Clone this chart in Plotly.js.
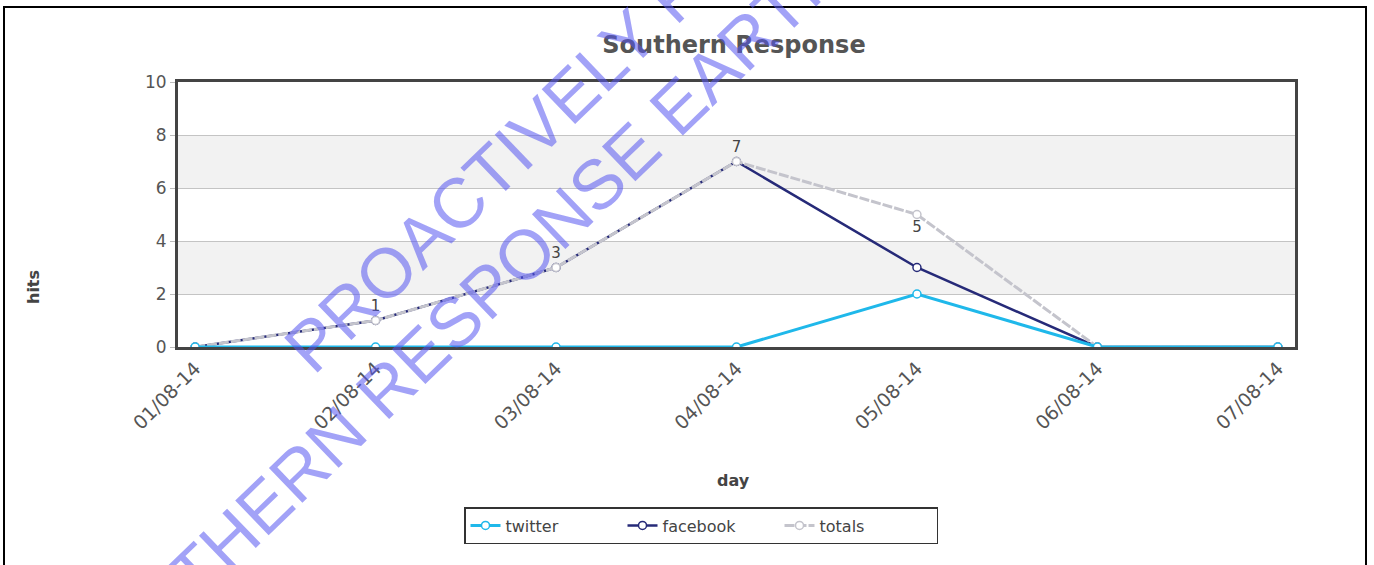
<!DOCTYPE html>
<html>
<head>
<meta charset="utf-8">
<script src="https://cdn.plot.ly/plotly-3.0.1.min.js"></script>
<style>html,body{margin:0;padding:0;background:#fff;}#chart{width:1374px;height:565px;}</style>
</head>
<body>
<div id="chart"></div>
<script>
const days = ['01/08-14','02/08-14','03/08-14','04/08-14','05/08-14','06/08-14','07/08-14'];
const twitter = [0, 0, 0, 0, 2, 0, 0];
const facebook = [0, 1, 3, 7, 3, 0, 0];
const totals = [0, 1, 3, 7, 5, 0, 0];
const yTicks = [0, 2, 4, 6, 8, 10];
const bands = [[2, 4], [6, 8]];

const L = 178, R = 79, T = 82, B = 218, W = 1374, H = 565;
const pw = W - L - R, ph = H - T - B;
const px = x => (x - L) / pw;
const py = y => (H - B - y) / ph;

const font = 'DejaVu Sans, Verdana, sans-serif';

const twTrace = {
  name: 'twitter', x: days, y: twitter, type: 'scatter', mode: 'lines+markers',
  line: {color: '#1fb8ea', width: 3},
  marker: {symbol: 'circle', size: 8, color: '#ffffff', line: {color: '#1fb8ea', width: 1.5}},
  legendrank: 1
};
const fbTrace = {
  name: 'facebook', x: days, y: facebook, type: 'scatter', mode: 'lines+markers',
  line: {color: '#262a78', width: 2.5},
  marker: {symbol: 'circle', size: 8, color: '#ffffff', line: {color: '#262a78', width: 1.5}},
  legendrank: 2
};
const totTrace = {
  name: 'totals', x: days, y: totals, type: 'scatter', mode: 'lines+markers+text',
  line: {color: '#c4c4cc', width: 3, dash: '10px,2px'},
  marker: {symbol: 'circle', size: 8, color: '#ffffff', line: {color: '#c4c4cc', width: 1.5}},
  text: totals.map(v => v > 0 ? String(v) : ''),
  textposition: ['top center','top center','top center','top center','bottom center','top center','top center'],
  textfont: {family: font, size: 15, color: '#444'},
  legendrank: 3
};
const data = [fbTrace, totTrace, twTrace];

const shapes = bands.map(b => ({
  type: 'rect', xref: 'paper', yref: 'y', x0: 0, x1: 1, y0: b[0], y1: b[1],
  fillcolor: '#f2f2f2', line: {width: 0}, layer: 'below'
}));
shapes.push({
  type: 'rect', xref: 'paper', yref: 'paper',
  x0: px(4), x1: px(1366), y0: py(620), y1: py(7),
  line: {color: '#000', width: 2}, fillcolor: 'rgba(0,0,0,0)'
});

const wmColor = 'rgba(85,85,240,0.55)';
const layout = {
  width: W, height: H,
  margin: {l: L, r: R, t: T, b: B},
  paper_bgcolor: '#fff', plot_bgcolor: '#fff',
  showlegend: true,
  title: {text: 'Southern Response', font: {family: font, size: 24, color: '#555', weight: 'bold'},
          x: px(734), xref: 'paper', xanchor: 'center', y: 1 - 45 / H, yref: 'container', yanchor: 'middle'},
  xaxis: {
    type: 'category', range: [-0.095, 6.095], tickangle: -45,
    tickfont: {family: font, size: 19, color: '#555'},
    showgrid: false, zeroline: false, showline: true, mirror: true, linecolor: '#444', linewidth: 3,
    ticks: '', fixedrange: true
  },
  yaxis: {
    range: [0, 10], tickvals: yTicks, ticktext: yTicks.map(String),
    tickfont: {family: font, size: 17, color: '#555'},
    showgrid: true, gridcolor: '#c4c4c4', gridwidth: 1, zeroline: false,
    showline: true, mirror: true, linecolor: '#444', linewidth: 3,
    ticks: 'outside', ticklen: 5, tickcolor: '#bbb'
  },
  legend: {
    orientation: 'h', x: px(464), xanchor: 'left', y: py(507), yanchor: 'top',
    font: {family: font, size: 16, color: '#444'},
    bordercolor: '#333', borderwidth: 1.5, bgcolor: '#fff',
    entrywidth: 112, traceorder: 'normal'
  },
  shapes: shapes,
  annotations: [
    {text: '<b>hits</b>', xref: 'paper', yref: 'paper', x: px(33), y: py(287), showarrow: false, textangle: -90,
     xanchor: 'center', yanchor: 'middle',
     font: {family: font, size: 16, color: '#444'}},
    {text: '<b>day</b>', xref: 'paper', yref: 'paper', x: px(733), y: py(480), showarrow: false,
     xanchor: 'center', yanchor: 'middle',
     font: {family: font, size: 16, color: '#444'}},
    {text: 'PROACTIVELY RELEASED', xref: 'paper', yref: 'paper', x: px(612), y: py(55), showarrow: false,
     textangle: -44, xanchor: 'center', yanchor: 'middle',
     font: {family: 'Liberation Sans, Arial, sans-serif', size: 70, color: wmColor}},
    {text: 'SOUTHERN RESPONSE EARTHQUAKE', xref: 'paper', yref: 'paper', x: px(540), y: py(240), showarrow: false,
     textangle: -44, xanchor: 'center', yanchor: 'middle',
     font: {family: 'Liberation Sans, Arial, sans-serif', size: 70, color: wmColor}}
  ]
};

Plotly.newPlot('chart', data, layout, {displayModeBar: false, staticPlot: true});
</script>
</body>
</html>
